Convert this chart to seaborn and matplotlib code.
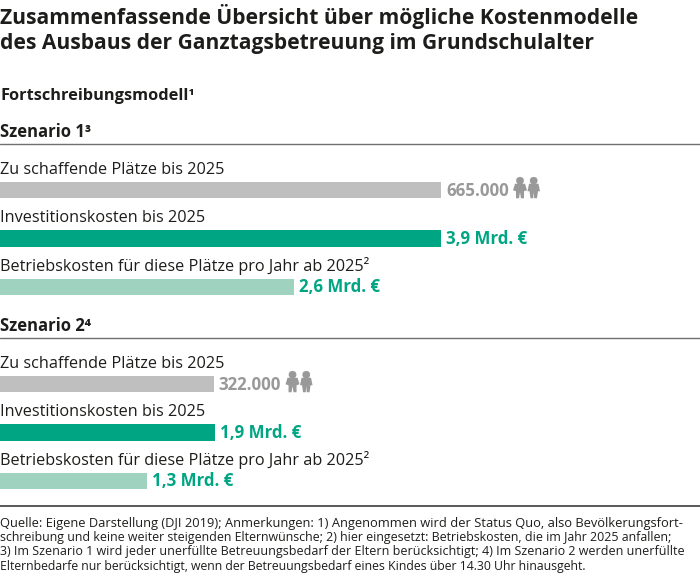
"""
Kostenmodelle Ganztagsbetreuung: Balken je Szenario
"""
import pandas as pd
import matplotlib.pyplot as plt
import seaborn as sns
from matplotlib.lines import Line2D
from matplotlib.patches import Polygon

sns.set_style("white")
plt.rcParams['font.family'] = ['Open Sans', 'Noto Sans', 'DejaVu Sans']

# Daten
metrics = ['Zu schaffende Plätze bis 2025',
           'Investitionskosten bis 2025',
           'Betriebskosten für diese Plätze pro Jahr ab 2025²']
scenario1_values = [665000, 3.9, 2.6]
scenario2_values = [322000, 1.9, 1.3]
scenario1_labels = ['665.000', '3,9 Mrd. €', '2,6 Mrd. €']
scenario2_labels = ['322.000', '1,9 Mrd. €', '1,3 Mrd. €']
title_lines = ['Zusammenfassende Übersicht über mögliche Kostenmodelle',
               'des Ausbaus der Ganztagsbetreuung im Grundschulalter']
footer_lines = [
    'Quelle: Eigene Darstellung (DJI 2019); Anmerkungen: 1) Angenommen wird der Status Quo, also Bevölkerungsfort-',
    'schreibung und keine weiter steigenden Elternwünsche; 2) hier eingesetzt: Betriebskosten, die im Jahr 2025 anfallen;',
    '3) Im Szenario 1 wird jeder unerfüllte Betreuungsbedarf der Eltern berücksichtigt; 4) Im Szenario 2 werden unerfüllte',
    'Elternbedarfe nur berücksichtigt, wenn der Betreuungsbedarf eines Kindes über 14.30 Uhr hinausgeht.',
]
# Original ist Blocksatz, hier je Zeile leicht andere Schriftgröße
footer_sizes = [9.3, 8.92, 9.0, 8.82]

bar_colors = ['#bfbfbf', '#00a583', '#9fd3bf']
label_colors = ['#999999', '#00a583', '#00a583']
text_color = '#1d1d1b'
line_color = '#6f6f6f'

W, H = 700, 579
# Plätze und Kosten haben je eine eigene Skala, Maximum jeweils gleich lang
place_max = max(scenario1_values[0], scenario2_values[0])
cost_max = max(scenario1_values[1:] + scenario2_values[1:])
BAR_MAX_PX = 441

fig = plt.figure(figsize=(W / 100, H / 100), dpi=100)


def put_text(x, y, s, size, weight='normal', color=text_color):
    return fig.text(x / W, 1 - y / H, s, fontsize=size, fontweight=weight, color=color,
                    va='baseline', ha='left')


def put_rule(y, width=1.0, color=line_color):
    fig.add_artist(Line2D([0, 1], [1 - y / H, 1 - y / H], color=color, linewidth=width))


def draw_people(x, y):
    # Piktogramm Mädchen + Junge, x/y = links oben in Pixeln
    def pts(p):
        return [((x + a) / W, 1 - (y + b) / H) for a, b in p]

    kw = dict(color='#999999', transform=fig.transFigure, linewidth=0)
    girl = [(1, 6.5), (11, 6.5), (13, 13), (10, 14), (10, 21), (7, 21), (6, 15),
            (5, 21), (2, 21), (2, 14), (-1, 13)]
    boy = [(15, 6.5), (24.5, 6.5), (26, 14), (24, 14), (23, 21), (20.2, 21), (19.7, 15),
           (19.2, 21), (16.5, 21), (15.5, 14), (13.5, 14)]
    fig.add_artist(Polygon(pts(girl), closed=True, **kw))
    fig.add_artist(Polygon(pts(boy), closed=True, **kw))
    for cx in (6, 19.7):
        fig.add_artist(Polygon(
            [((x + cx + 3.8 * a) / W, 1 - (y + 3.4 + 3.8 * b) / H)
             for a, b in [(-1, -.3), (-.7, -.8), (0, -1), (.7, -.8), (1, -.3), (1, .3), (.7, .8), (0, 1), (-.7, .8), (-1, .3)]],
            closed=True, **kw))


def draw_scenario(values, labels, top_px):
    df = pd.DataFrame({'metric': metrics, 'value': values})
    df['length'] = df['value'] / [place_max, cost_max, cost_max]
    row_h = 48.5
    ax = fig.add_axes([0, 1 - (top_px + 3 * row_h) / H, 1, 3 * row_h / H])
    sns.barplot(data=df, x='length', y='metric', hue='metric', palette=bar_colors,
                width=16.5 / row_h, legend=False, dodge=False, saturation=1,
                linewidth=0, ax=ax)
    ax.set_xlim(0, W / BAR_MAX_PX)
    ax.set_ylim(2.5, -0.5)
    ax.axis('off')
    ax.patch.set_alpha(0)
    for i, row in df.iterrows():
        bar_end = row['length'] * BAR_MAX_PX
        center = top_px + (i + 0.5) * row_h
        put_text(0, center - 16, row['metric'], 11.7)
        put_text(bar_end + 5, center + 5.5, labels[i], 12.15, 'bold', label_colors[i])
    draw_people(df['length'][0] * BAR_MAX_PX + 73, top_px + 11.5)


for i, line in enumerate(title_lines):
    put_text(0, 24 + i * 25.5, line, 15.1, 'bold')
put_text(0, 100, 'Fortschreibungsmodell¹', 11.8, 'bold')

put_text(0, 137, 'Szenario 1³', 12, 'bold')
put_rule(144)
draw_scenario(scenario1_values, scenario1_labels, 165.75)

put_text(0, 331, 'Szenario 2⁴', 12, 'bold')
put_rule(338)
draw_scenario(scenario2_values, scenario2_labels, 359.75)

put_rule(506, 1.2, '#3c3c3c')
for i, line in enumerate(footer_lines):
    put_text(0, 527 + i * 14.2, line, footer_sizes[i])

fig.savefig('out.png', dpi=100)
plt.close(fig)
